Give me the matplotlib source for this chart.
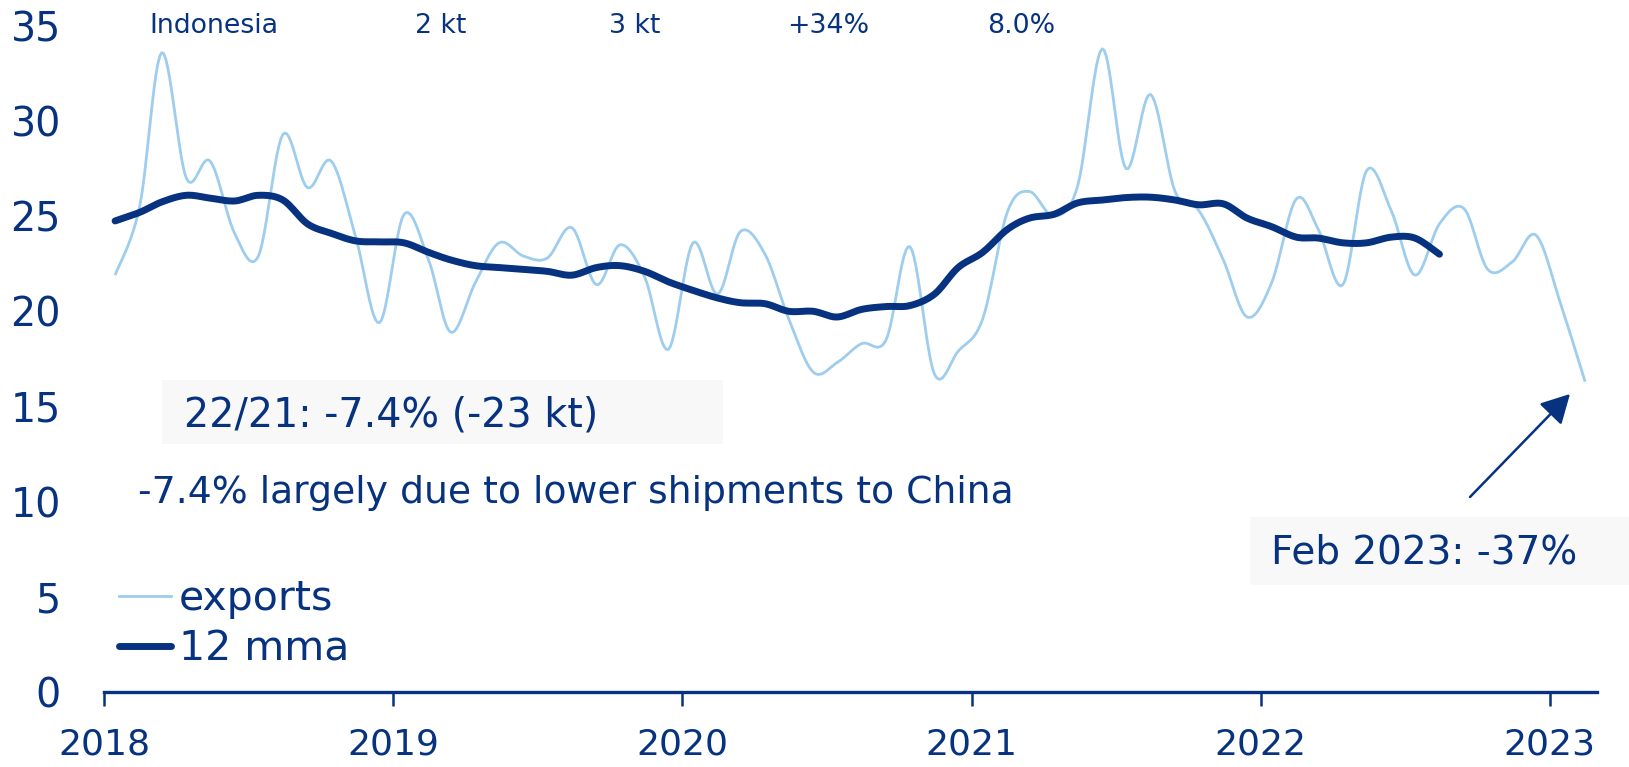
import numpy as np
import pandas as pd
import matplotlib
matplotlib.use('Agg')
import matplotlib.pyplot as plt
import matplotlib.dates as mdates
from matplotlib.lines import Line2D
from matplotlib.patches import Rectangle

# ---------------- data ----------------
first_month = '2018-01'
exports = [21.9, 25.5, 33.6, 27.0, 27.9, 24.1, 22.9, 29.3, 26.5, 27.9, 23.9, 19.4,
           25.1, 22.7, 18.9, 21.5, 23.6, 22.9, 22.8, 24.4, 21.4, 23.5, 21.8, 18.0,
           23.6, 20.9, 24.2, 23.0, 19.6, 16.8, 17.3, 18.3, 18.5, 23.4, 16.7, 17.9,
           19.6, 25.2, 26.3, 25.0, 26.6, 33.8, 27.5, 31.4, 26.3, 25.3, 22.7, 19.7,
           21.5, 25.9, 24.3, 21.4, 27.4, 25.3, 21.9, 24.6, 25.4, 22.2, 22.6, 24.0,
           20.4, 16.3]
mma12 = [24.75, 25.2, 25.75, 26.1, 25.95, 25.8, 26.1, 25.85, 24.6, 24.1, 23.7, 23.65,
         23.6, 23.1, 22.7, 22.4, 22.3, 22.2, 22.1, 21.9, 22.3, 22.4, 22.1, 21.55,
         21.1, 20.7, 20.45, 20.4, 20.0, 20.0, 19.7, 20.1, 20.25, 20.3, 20.9, 22.3,
         23.1, 24.3, 24.9, 25.1, 25.7, 25.85, 25.98, 26.0, 25.85, 25.6, 25.65, 24.9,
         24.45, 23.9, 23.85, 23.6, 23.6, 23.9, 23.85, 23.0]
year_ticks = ['2018', '2019', '2020', '2021', '2022', '2023']
y_ticks = [0, 5, 10, 15, 20, 25, 30, 35]
header_texts = ['Indonesia', '2 kt', '3 kt', '+34%', '8.0%']
legend_labels = ['exports', '12 mma']
box1_text = '22/21: -7.4% (-23 kt)'
note_text = '-7.4% largely due to lower shipments to China'
box2_text = 'Feb 2023: -37%'

NAVY = '#06327F'
LIGHT = '#9ECDED'
TXT = '#06327F'

W, H = 1629, 767
fig = plt.figure(figsize=(W / 100, H / 100), dpi=100)


def fx(px):
    return px / W


def fy(py):
    return 1 - py / H


ax = fig.add_axes([fx(104), fy(691.7), fx(1597) - fx(104), fy(26) - fy(691.7)])


def mid_month_dates(n):
    return pd.date_range(first_month + '-01', periods=n, freq='MS') + pd.Timedelta(days=14)


def smooth(xn, y, per=12):
    # Catmull-Rom (Excel-like smoothed line) through the data points
    x = np.asarray(xn, float)
    y = np.asarray(y, float)
    xs, ys = [], []
    n = len(x)
    for i in range(n - 1):
        p0 = (x[i - 1], y[i - 1]) if i > 0 else (x[i], y[i])
        p1 = (x[i], y[i])
        p2 = (x[i + 1], y[i + 1])
        p3 = (x[i + 2], y[i + 2]) if i + 2 < n else (x[i + 1], y[i + 1])
        c1 = (p1[0] + (p2[0] - p0[0]) / 6, p1[1] + (p2[1] - p0[1]) / 6)
        c2 = (p2[0] - (p3[0] - p1[0]) / 6, p2[1] - (p3[1] - p1[1]) / 6)
        t = np.linspace(0, 1, per, endpoint=(i == n - 2))
        b0 = (1 - t) ** 3
        b1 = 3 * (1 - t) ** 2 * t
        b2 = 3 * (1 - t) * t ** 2
        b3 = t ** 3
        xs.append(b0 * p1[0] + b1 * c1[0] + b2 * c2[0] + b3 * p2[0])
        ys.append(b0 * p1[1] + b1 * c1[1] + b2 * c2[1] + b3 * p2[1])
    return np.concatenate(xs), np.concatenate(ys)


d_exp = mdates.date2num(mid_month_dates(len(exports)))
d_mma = mdates.date2num(mid_month_dates(len(mma12)))

sx, sy = smooth(d_exp, exports)
ax.plot(sx, sy, color=LIGHT, lw=2.0, solid_capstyle='butt', zorder=2)
mx, my = smooth(d_mma, mma12)
ax.plot(mx, my, color=NAVY, lw=5.0, solid_capstyle='round', zorder=3)

ax.set_xlim(mdates.date2num(pd.Timestamp('2018-01-01')), mdates.date2num(pd.Timestamp('2023-03-02')))
ax.set_ylim(0, 35)
ax.set_xticks([mdates.date2num(pd.Timestamp(y + '-01-01')) for y in year_ticks])
ax.set_xticklabels(year_ticks)
ax.set_yticks(y_ticks)
ax.set_yticklabels([str(v) for v in y_ticks])

for s in ['top', 'right', 'left']:
    ax.spines[s].set_visible(False)
ax.spines['bottom'].set_color(NAVY)
ax.spines['bottom'].set_linewidth(2.4)
ax.tick_params(axis='x', colors=NAVY, length=10, width=1.8, pad=16, labelsize=26, labelcolor=TXT)
ax.tick_params(axis='y', length=0, pad=31, labelsize=28.5, labelcolor=TXT)
ax.set_facecolor('none')

# header row
for txt, xc in zip(header_texts, [214, 440.5, 635, 828, 1021]):
    fig.text(fx(xc), fy(33), txt, ha='center', va='baseline', fontsize=19.3, color=TXT)

# boxes
fig.patches.append(Rectangle((fx(162), fy(444)), fx(723) - fx(162), fy(380) - fy(444),
                             transform=fig.transFigure, facecolor='#F8F8F8', edgecolor='none', zorder=0))
fig.text(fx(184), fy(426.7), box1_text, ha='left', va='baseline', fontsize=28.5, color=TXT)
fig.text(fx(138), fy(502.7), note_text, ha='left', va='baseline', fontsize=27.2, color=TXT)
fig.patches.append(Rectangle((fx(1250), fy(585)), fx(1629) - fx(1250), fy(517) - fy(585),
                             transform=fig.transFigure, facecolor='#F8F8F8', edgecolor='none', zorder=0))
fig.text(fx(1271), fy(564), box2_text, ha='left', va='baseline', fontsize=28, color=TXT)

# arrow
ax.annotate('', xy=(1570, H - 394), xytext=(1470, H - 497), xycoords='figure pixels',
            textcoords='figure pixels',
            arrowprops=dict(arrowstyle='-|>,head_length=1.76,head_width=0.95', color=NAVY,
                            lw=1.8, shrinkA=0, shrinkB=0, mutation_scale=10))

# legend
handles = [Line2D([], [], color=LIGHT, lw=2.0), Line2D([], [], color=NAVY, lw=5.0, solid_capstyle='round')]
leg = ax.legend(handles, legend_labels, loc='upper left', bbox_to_anchor=(fx(119.5), fy(579)),
                bbox_transform=fig.transFigure, frameon=False, fontsize=29.5, handlelength=1.25,
                handletextpad=0.2, borderpad=0, borderaxespad=0, labelspacing=0.25, labelcolor=TXT)

fig.savefig('out.png', dpi=100)
